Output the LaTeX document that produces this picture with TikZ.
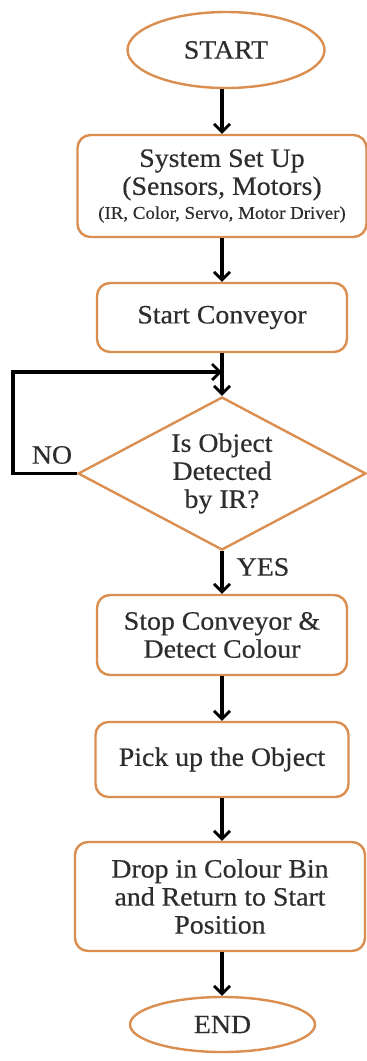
\documentclass[tikz,border=0pt]{standalone}
\usepackage{fontspec}
\setmainfont[FakeStretch=1.05,FakeBold=0.4]{Liberation Serif}
\usetikzlibrary{shapes.geometric,arrows.meta}
\definecolor{bord}{RGB}{218,142,80}
\definecolor{txt}{RGB}{45,45,45}
\tikzset{
  x=1pt,y=1pt,
  base/.style={draw=bord,line width=2.4pt,fill=white,inner sep=0pt,align=center,
    text=txt,font=\fontsize{26.5}{28}\selectfont},
  term/.style={base,ellipse},
  proc/.style={base,rectangle,rounded corners=13pt},
  dec/.style={base,diamond,aspect=1.9},
  arr/.style={draw=black,line width=3.2pt,-{Straight Barb[length=8pt,width=16pt,line width=2.8pt]}},
  lbl/.style={text=txt,font=\fontsize{26.5}{28}\selectfont,inner sep=0pt}
}
\begin{document}
\begin{tikzpicture}
\useasboundingbox (0,0) rectangle (367,-1061);
\node[term,minimum width=197,minimum height=76] (start) at (226,-50) {START};
\node[proc,minimum width=289,minimum height=102] (setup) at (222,-186)
  {System Set Up\\(Sensors, Motors)\\[-4pt]{\fontsize{18}{19}\selectfont (IR, Color, Servo, Motor Driver)}};
\node[proc,minimum width=250,minimum height=69] (conv) at (222,-317.5) {Start Conveyor};
\node[dec,minimum width=288,minimum height=153] (det) at (222,-473.5) {Is Object\\Detected\\by IR?};
\node[proc,minimum width=250,minimum height=80] (stop) at (222,-635) {Stop Conveyor \&\\Detect Colour};
\node[proc,minimum width=253,minimum height=75] (pick) at (222,-759.5) {Pick up the Object};
\node[proc,minimum width=290,minimum height=109] (drop) at (220,-896.5) {Drop in Colour Bin\\and Return to Start\\Position};
\node[term,minimum width=185,minimum height=55] (end) at (222.5,-1024.5) {END};
\coordinate (join) at (222,-372);
\coordinate (loopc) at (13,-473.5);
\node[lbl] (no) at (52,-455) {NO};
\node[lbl] (yes) at (263,-567) {YES};

\draw[arr] (start.south -| setup.north) -- (setup.north);
\draw[arr] (setup.south) -- (conv.north);
\draw[arr] (conv.south) -- (det.north);
\draw[arr] (det.south) -- (stop.north);
\draw[arr] (stop.south) -- (pick.north);
\draw[arr] (pick.south) -- (pick.south |- drop.north);
\draw[arr] (pick.south |- drop.south) -- (end.north -| pick.south);
\draw[arr] (det.west) -- (loopc) |- (join);
\end{tikzpicture}
\end{document}
